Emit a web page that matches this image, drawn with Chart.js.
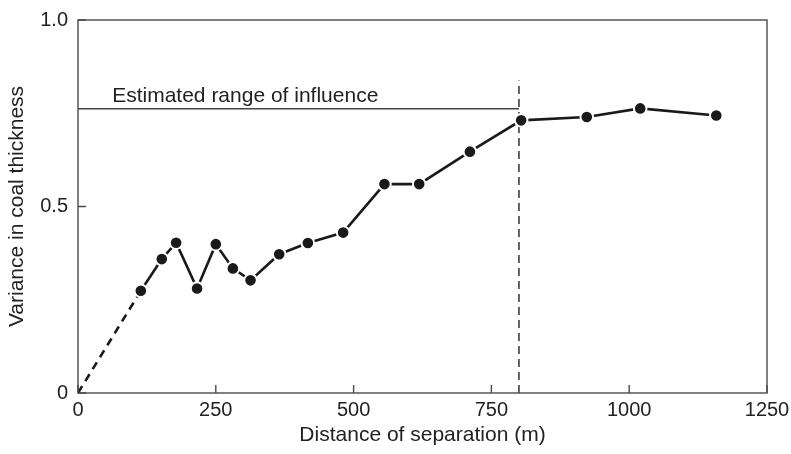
<!DOCTYPE html>
<html>
<head>
<meta charset="utf-8">
<script src="https://cdn.jsdelivr.net/npm/chart.js@4.4.1/dist/chart.umd.min.js"></script>
<style>
  html, body { margin: 0; padding: 0; background: #ffffff; }
  #wrap { width: 791px; height: 454px; position: relative; }
</style>
</head>
<body>
<div id="wrap"><canvas id="c" width="791" height="454"></canvas></div>
<script>
// ---- data ----
const distances = [114, 152, 178, 216, 250, 281, 313, 365, 417, 481, 556, 619, 711, 804, 923, 1020, 1158];
const variances = [0.274, 0.359, 0.403, 0.280, 0.399, 0.334, 0.302, 0.372, 0.402, 0.430, 0.560, 0.560, 0.647, 0.731, 0.740, 0.763, 0.744];
const rangeOfInfluence = 800;       // m
const sillVariance = 0.762;
const rangeMarkerTop = 0.838;
const xTickLabels = ['0', '250', '500', '750', '1000', '1250'];
const yTickLabels = ['0', '0.5', '1.0'];
const annotationText = 'Estimated range of influence';
const xTitle = 'Distance of separation (m)';
const yTitle = 'Variance in coal thickness';

const FONT = '"Liberation Sans", Arial, Helvetica, sans-serif';
const INK = '#222222';
const AXIS = '#4a4a4a';

const mainPoints = distances.map((d, i) => ({ x: d, y: variances[i] }));
const extrapolation = [{ x: 0, y: 0 }, { x: distances[0], y: variances[0] }];
const rangeLine = [{ x: rangeOfInfluence, y: 0 }, { x: rangeOfInfluence, y: rangeMarkerTop }];
const sillLine = [{ x: 0, y: sillVariance }, { x: rangeOfInfluence, y: sillVariance }];

const framePlugin = {
  id: 'frame',
  afterDraw(chart) {
    const { ctx, chartArea: a, scales } = chart;
    ctx.save();
    ctx.strokeStyle = AXIS;
    ctx.lineWidth = 1.4;
    ctx.setLineDash([]);
    ctx.strokeRect(a.left, a.top, a.right - a.left, a.bottom - a.top);
    // inward ticks
    const tl = 8;
    ctx.beginPath();
    scales.x.ticks.forEach(t => {
      const px = scales.x.getPixelForValue(t.value);
      ctx.moveTo(px, a.bottom);
      ctx.lineTo(px, a.bottom - tl);
    });
    scales.y.ticks.forEach(t => {
      const py = scales.y.getPixelForValue(t.value);
      ctx.moveTo(a.left, py);
      ctx.lineTo(a.left + tl, py);
    });
    ctx.stroke();
    // annotation text
    ctx.fillStyle = INK;
    ctx.font = '21px ' + FONT;
    ctx.textAlign = 'left';
    ctx.textBaseline = 'alphabetic';
    ctx.fillText(annotationText, scales.x.getPixelForValue(62), scales.y.getPixelForValue(sillVariance) - 7);
    ctx.restore();
  }
};

new Chart(document.getElementById('c'), {
  type: 'scatter',
  data: {
    datasets: [
      {
        data: mainPoints,
        showLine: true,
        borderColor: '#1a1a1a',
        borderWidth: 2.6,
        pointRadius: 6.3,
        pointBackgroundColor: '#1a1a1a',
        pointBorderColor: '#ffffff',
        pointBorderWidth: 2,
        tension: 0
      },
      {
        data: extrapolation,
        showLine: true,
        borderColor: '#1a1a1a',
        borderWidth: 2.6,
        borderDash: [8, 6],
        pointRadius: 0
      },
      {
        data: rangeLine,
        showLine: true,
        borderColor: '#222222',
        borderWidth: 1.4,
        borderDash: [8, 5],
        pointRadius: 0
      },
      {
        data: sillLine,
        showLine: true,
        borderColor: '#444444',
        borderWidth: 1.4,
        pointRadius: 0
      }
    ]
  },
  options: {
    responsive: false,
    animation: false,
    devicePixelRatio: 1,
    layout: { padding: { left: 0, right: 24, top: 20, bottom: 0 } },
    plugins: { legend: { display: false }, tooltip: { enabled: false } },
    scales: {
      x: {
        type: 'linear',
        min: 0, max: 1250,
        afterFit(scale) { scale.height = 61; scale.paddingLeft = 0; scale.paddingRight = 0; },
        afterBuildTicks(scale) { scale.ticks = xTickLabels.map(v => ({ value: Number(v) })); },
        ticks: {
          callback: (v, i) => xTickLabels[i],
          font: { family: FONT, size: 20 },
          color: INK,
          padding: 5,
          maxRotation: 0,
          autoSkip: false
        },
        grid: { drawOnChartArea: false, drawTicks: false },
        border: { display: false },
        title: {
          display: true,
          text: xTitle,
          font: { family: FONT, size: 21 },
          color: INK,
          padding: { top: 0, bottom: 6 }
        }
      },
      y: {
        type: 'linear',
        min: 0, max: 1,
        afterFit(scale) { scale.width = 78; scale.paddingTop = 0; scale.paddingBottom = 0; },
        afterBuildTicks(scale) { scale.ticks = yTickLabels.map(v => ({ value: Number(v) })); },
        ticks: {
          callback: (v, i) => yTickLabels[i],
          font: { family: FONT, size: 20 },
          color: INK,
          padding: 10,
          autoSkip: false
        },
        grid: { drawOnChartArea: false, drawTicks: false },
        border: { display: false },
        title: {
          display: true,
          text: yTitle,
          font: { family: FONT, size: 21 },
          color: INK,
          padding: { top: 5, bottom: 0 }
        }
      }
    }
  },
  plugins: [framePlugin]
});
</script>
</body>
</html>
